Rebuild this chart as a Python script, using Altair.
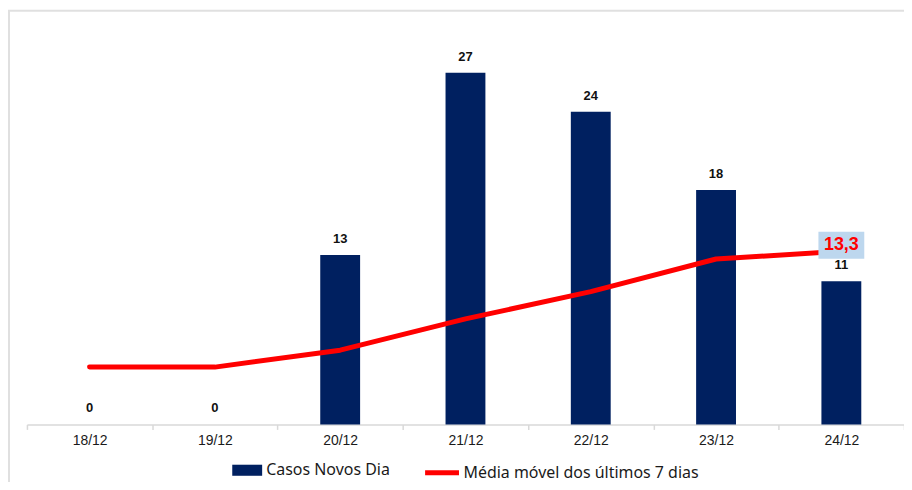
import altair as alt
import pandas as pd

dates = ["18/12", "19/12", "20/12", "21/12", "22/12", "23/12", "24/12"]
casos = [0, 0, 13, 27, 24, 18, 11]
media = [4.4, 4.4, 5.7, 8.1, 10.2, 12.7, 13.3]
bar_series = "Casos Novos Dia"
line_series = "Média móvel dos últimos 7 dias"

NAVY = "#002060"
RED = "#ff0000"

df = pd.DataFrame({"data": dates, "casos": casos, "media": media})
df["serie_bar"] = bar_series
df["serie_line"] = line_series

base = alt.Chart(df)

x_enc = alt.X(
    "data:N",
    sort=dates,
    scale=alt.Scale(paddingInner=0, paddingOuter=0),
    axis=alt.Axis(
        title=None,
        labelAngle=0,
        tickBand="extent",
        domainColor="#d9d9d9",
        domainWidth=1.5,
        tickColor="#d9d9d9",
        tickWidth=1.5,
        tickSize=5,
        labelFont="Liberation Sans",
        labelFontSize=14,
        labelColor="#1a1a1a",
        labelPadding=4,
    ),
)
y_scale = alt.Scale(domain=[0, 30])

bars = base.mark_bar(size=40).encode(
    x=x_enc,
    y=alt.Y("casos:Q", scale=y_scale, axis=None),
    color=alt.Color(
        "serie_bar:N",
        scale=alt.Scale(domain=[bar_series], range=[NAVY]),
        legend=alt.Legend(
            orient="none", legendX=206, legendY=423, title=None,
            symbolType="M-1,-0.37H1V0.37H-1Z", symbolSize=900,
            symbolStrokeWidth=0, labelFont="Noto Sans", labelFontSize=16,
            labelColor="#1a1a1a", labelLimit=0, padding=0, labelOffset=4,
        ),
    ),
)

bar_labels = base.mark_text(
    dy=-9, baseline="bottom", fontWeight="bold", fontSize=13,
    font="Liberation Sans", color="#111111",
).encode(x=alt.X("data:N", sort=dates), y=alt.Y("casos:Q", scale=y_scale), text="casos:Q")

line = base.mark_line(strokeWidth=5, strokeCap="round", strokeJoin="round").encode(
    x=alt.X("data:N", sort=dates),
    y=alt.Y("media:Q", scale=y_scale),
    stroke=alt.Stroke(
        "serie_line:N",
        scale=alt.Scale(domain=[line_series], range=[RED]),
        legend=alt.Legend(
            orient="none", legendX=397, legendY=421, title=None,
            symbolType="stroke", symbolSize=1156, symbolStrokeWidth=5,
            labelFont="Noto Sans", labelFontSize=16, labelColor="#1a1a1a",
            labelLimit=0, padding=0, labelOffset=2,
        ),
    ),
)

last = base.transform_filter(alt.datum.data == dates[-1]).transform_calculate(
    lbl="replace(format(datum.media, '.1f'), '.', ',')"
)
last_box = last.mark_tick(size=46, thickness=27, color="#bdd7ee", opacity=1, yOffset=-6).encode(
    x=alt.X("data:N", sort=dates), y=alt.Y("media:Q", scale=y_scale)
)
last_text = last.mark_text(
    color=RED, fontWeight="bold", fontSize=18, font="Liberation Sans",
    baseline="middle", yOffset=-6,
).encode(x=alt.X("data:N", sort=dates), y=alt.Y("media:Q", scale=y_scale), text="lbl:N")

frame_df = alt.Chart(pd.DataFrame({"k": [0]}))
frame_left = frame_df.mark_rule(color="#e0e0e0", strokeWidth=2).encode(
    x=alt.value(-18), y=alt.value(-23), y2=alt.value(470)
)
frame_top = frame_df.mark_rule(color="#e0e0e0", strokeWidth=2).encode(
    x=alt.value(-19), x2=alt.value(900), y=alt.value(-23)
)

chart = (
    alt.layer(frame_left, frame_top, bars, bar_labels, line, last_box, last_text)
    .resolve_scale(color="independent")
    .properties(
        width=880,
        height=392,
        padding={"left": 19, "top": 25, "right": 0, "bottom": 57},
        autosize=alt.AutoSizeParams(type="none"),
    )
    .configure_view(stroke=None)
)

chart.save("out.html", embed_options={"renderer": "svg", "actions": False})
